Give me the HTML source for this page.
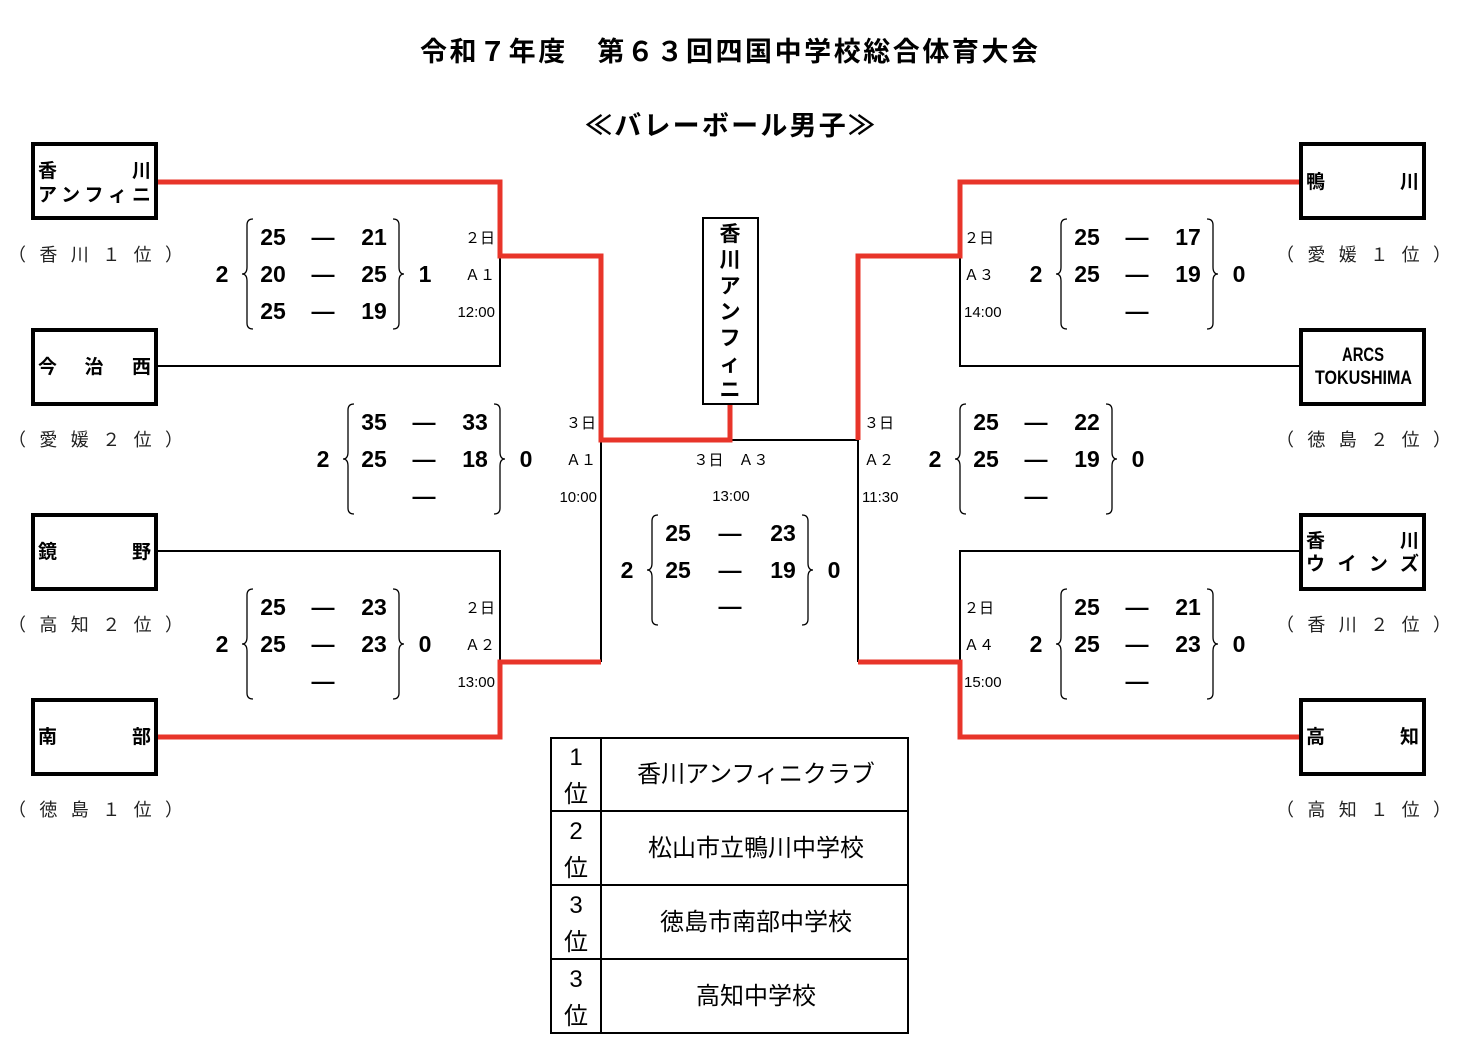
<!DOCTYPE html>
<html><head><meta charset="utf-8"><style>
html,body{margin:0;padding:0;background:#fff}
svg text{font-family:"Liberation Sans","Noto Sans CJK JP",sans-serif}
.n{font-family:"Liberation Sans Narrow","Liberation Sans","Noto Sans CJK JP",sans-serif;font-weight:bold;font-size:23px}
.s{font-size:15px}
.t{font-weight:bold;font-size:19px}
.c{font-size:18px;letter-spacing:0}
</style></head><body>
<svg width="1460" height="1052" viewBox="0 0 1460 1052" xmlns="http://www.w3.org/2000/svg">
<text x="420" y="61" font-size="27" font-weight="bold" textLength="618" lengthAdjust="spacing">令和７年度　第６３回四国中学校総合体育大会</text>
<text x="585" y="135" font-size="27" font-weight="bold" textLength="290" lengthAdjust="spacing">≪バレーボール男子≫</text>

<g stroke="#000" stroke-width="2" fill="none">
<path d="M156 366H500V256"/>
<path d="M156 551H500V662"/>
<path d="M601 440V662"/>
<path d="M730 440H858V662"/>
<path d="M1300 366H960V256"/>
<path d="M1300 551H960V662"/>
</g>
<g stroke="#e8352a" stroke-width="5" fill="none">
<path d="M156 182H500V256H601V440H730V404"/>
<path d="M156 737H500V662H601"/>
<path d="M1300 182H960V256H858V440"/>
<path d="M1300 737H960V662H858"/>
</g>

<g stroke="#000" stroke-width="4" fill="#fff">
<rect x="33" y="144" width="123" height="74"/>
<rect x="33" y="330" width="123" height="74"/>
<rect x="33" y="515" width="123" height="74"/>
<rect x="33" y="700" width="123" height="74"/>
<rect x="1301" y="144" width="123" height="74"/>
<rect x="1301" y="330" width="123" height="74"/>
<rect x="1301" y="515" width="123" height="74"/>
<rect x="1301" y="700" width="123" height="74"/>
</g>
<g class="t">
<text x="38" y="177">香</text><text x="151" y="177" text-anchor="end">川</text>
<text x="38" y="201" textLength="113" lengthAdjust="spacing">アンフィニ</text>
<text x="38" y="373">今</text><text x="94" y="373" text-anchor="middle">治</text><text x="151" y="373" text-anchor="end">西</text>
<text x="38" y="558">鏡</text><text x="151" y="558" text-anchor="end">野</text>
<text x="38" y="743">南</text><text x="151" y="743" text-anchor="end">部</text>
<text x="1306" y="188">鴨</text><text x="1419" y="188" text-anchor="end">川</text>
<text x="1306" y="547">香</text><text x="1419" y="547" text-anchor="end">川</text>
<text x="1306" y="570" textLength="113" lengthAdjust="spacing">ウインズ</text>
<text x="1306" y="743">高</text><text x="1419" y="743" text-anchor="end">知</text>
</g>
<text x="1342" y="361" class="n" style="font-size:19px" textLength="42" lengthAdjust="spacingAndGlyphs">ARCS</text>
<text x="1315" y="384" class="n" style="font-size:19px" textLength="97" lengthAdjust="spacingAndGlyphs">TOKUSHIMA</text>

<g class="c" fill="#222">
<text x="8" y="261" textLength="175" lengthAdjust="spacing">（香川１位）</text>
<text x="8" y="446" textLength="175" lengthAdjust="spacing">（愛媛２位）</text>
<text x="8" y="631" textLength="175" lengthAdjust="spacing">（高知２位）</text>
<text x="8" y="816" textLength="175" lengthAdjust="spacing">（徳島１位）</text>
<text x="1276" y="261" textLength="175" lengthAdjust="spacing">（愛媛１位）</text>
<text x="1276" y="446" textLength="175" lengthAdjust="spacing">（徳島２位）</text>
<text x="1276" y="631" textLength="175" lengthAdjust="spacing">（香川２位）</text>
<text x="1276" y="816" textLength="175" lengthAdjust="spacing">（高知１位）</text>
</g>

<rect x="703" y="218" width="55" height="186" fill="#fff" stroke="#000" stroke-width="2"/>
<g font-weight="bold" font-size="21" text-anchor="middle">
<text x="730" y="241">香</text><text x="730" y="267">川</text><text x="730" y="293">ア</text>
<text x="730" y="319">ン</text><text x="730" y="345">フ</text><text x="730" y="371">ィ</text><text x="730" y="397">ニ</text>
</g>

<g fill="none" stroke="#000" stroke-width="1.3">
<path d="M253 219q-6 0-6 6v42q0 7-5 7q5 0 5 7v42q0 6 6 6"/>
<path d="M393 219q6 0 6 6v42q0 7 5 7q-5 0-5 7v42q0 6-6 6"/>
<path d="M354 404q-6 0-6 6v42q0 7-5 7q5 0 5 7v42q0 6 6 6"/>
<path d="M494 404q6 0 6 6v42q0 7 5 7q-5 0-5 7v42q0 6-6 6"/>
<path d="M253 589q-6 0-6 6v42q0 7-5 7q5 0 5 7v42q0 6 6 6"/>
<path d="M393 589q6 0 6 6v42q0 7 5 7q-5 0-5 7v42q0 6-6 6"/>
<path d="M658 515q-6 0-6 6v42q0 7-5 7q5 0 5 7v42q0 6 6 6"/>
<path d="M802 515q6 0 6 6v42q0 7 5 7q-5 0-5 7v42q0 6-6 6"/>
<path d="M1067 219q-6 0-6 6v42q0 7-5 7q5 0 5 7v42q0 6 6 6"/>
<path d="M1207 219q6 0 6 6v42q0 7 5 7q-5 0-5 7v42q0 6-6 6"/>
<path d="M966 404q-6 0-6 6v42q0 7-5 7q5 0 5 7v42q0 6 6 6"/>
<path d="M1106 404q6 0 6 6v42q0 7 5 7q-5 0-5 7v42q0 6-6 6"/>
<path d="M1067 589q-6 0-6 6v42q0 7-5 7q5 0 5 7v42q0 6 6 6"/>
<path d="M1207 589q6 0 6 6v42q0 7 5 7q-5 0-5 7v42q0 6-6 6"/>
</g>
<g class="n" text-anchor="middle">
<text x="222" y="282">2</text><text x="425" y="282">1</text>
<text x="273" y="245">25</text><text x="323" y="245">—</text><text x="374" y="245">21</text>
<text x="273" y="282">20</text><text x="323" y="282">—</text><text x="374" y="282">25</text>
<text x="273" y="319">25</text><text x="323" y="319">—</text><text x="374" y="319">19</text>
<text x="323" y="467">2</text><text x="526" y="467">0</text>
<text x="374" y="430">35</text><text x="424" y="430">—</text><text x="475" y="430">33</text>
<text x="374" y="467">25</text><text x="424" y="467">—</text><text x="475" y="467">18</text>
<text x="424" y="504">—</text>
<text x="222" y="652">2</text><text x="425" y="652">0</text>
<text x="273" y="615">25</text><text x="323" y="615">—</text><text x="374" y="615">23</text>
<text x="273" y="652">25</text><text x="323" y="652">—</text><text x="374" y="652">23</text>
<text x="323" y="689">—</text>
<text x="627" y="578">2</text><text x="834" y="578">0</text>
<text x="678" y="541">25</text><text x="730" y="541">—</text><text x="783" y="541">23</text>
<text x="678" y="578">25</text><text x="730" y="578">—</text><text x="783" y="578">19</text>
<text x="730" y="614">—</text>
<text x="1036" y="282">2</text><text x="1239" y="282">0</text>
<text x="1087" y="245">25</text><text x="1137" y="245">—</text><text x="1188" y="245">17</text>
<text x="1087" y="282">25</text><text x="1137" y="282">—</text><text x="1188" y="282">19</text>
<text x="1137" y="319">—</text>
<text x="935" y="467">2</text><text x="1138" y="467">0</text>
<text x="986" y="430">25</text><text x="1036" y="430">—</text><text x="1087" y="430">22</text>
<text x="986" y="467">25</text><text x="1036" y="467">—</text><text x="1087" y="467">19</text>
<text x="1036" y="504">—</text>
<text x="1036" y="652">2</text><text x="1239" y="652">0</text>
<text x="1087" y="615">25</text><text x="1137" y="615">—</text><text x="1188" y="615">21</text>
<text x="1087" y="652">25</text><text x="1137" y="652">—</text><text x="1188" y="652">23</text>
<text x="1137" y="689">—</text>
</g>
<g class="s">
<text x="495" y="243" text-anchor="end">２日</text><text x="495" y="280" text-anchor="end">Ａ１</text><text x="495" y="317" text-anchor="end">12:00</text>
<text x="596" y="428" text-anchor="end">３日</text><text x="596" y="465" text-anchor="end">Ａ１</text><text x="597" y="502" text-anchor="end">10:00</text>
<text x="495" y="613" text-anchor="end">２日</text><text x="495" y="650" text-anchor="end">Ａ２</text><text x="495" y="687" text-anchor="end">13:00</text>
<text x="731" y="465" text-anchor="middle">３日　Ａ３</text><text x="731" y="501" text-anchor="middle">13:00</text>
<text x="964" y="243">２日</text><text x="964" y="280">Ａ３</text><text x="964" y="317">14:00</text>
<text x="864" y="428">３日</text><text x="864" y="465">Ａ２</text><text x="862" y="502">11:30</text>
<text x="964" y="613">２日</text><text x="964" y="650">Ａ４</text><text x="964" y="687">15:00</text>
</g>

<g stroke="#000" stroke-width="2" fill="none">
<rect x="551" y="738" width="357" height="295"/>
<path d="M601 738V1033M551 811H908M551 885H908M551 959H908"/>
</g>
<g font-size="24" text-anchor="middle">
<text x="576" y="765">1</text><text x="576" y="802">位</text>
<text x="576" y="839">2</text><text x="576" y="876">位</text>
<text x="576" y="913">3</text><text x="576" y="950">位</text>
<text x="576" y="987">3</text><text x="576" y="1024">位</text>
</g>
<g font-size="24" text-anchor="middle">
<text x="756" y="782">香川アンフィニクラブ</text>
<text x="756" y="856">松山市立鴨川中学校</text>
<text x="756" y="930">徳島市南部中学校</text>
<text x="756" y="1004">高知中学校</text>
</g>
</svg>
</body></html>
